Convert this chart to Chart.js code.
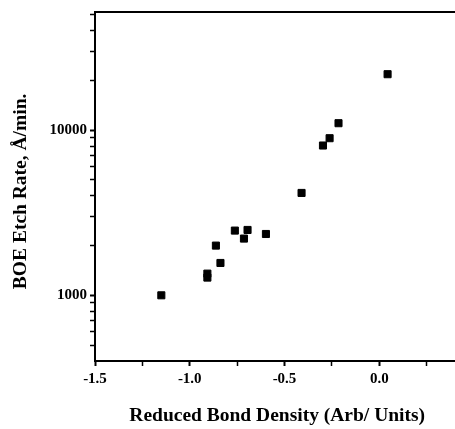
<!DOCTYPE html>
<html>
<head>
<meta charset="utf-8">
<script src="https://cdn.jsdelivr.net/npm/chart.js@4/dist/chart.umd.min.js"></script>
<style>
  html, body { margin: 0; padding: 0; background: #fff; overflow: hidden; }
  canvas { display: block; }
</style>
</head>
<body>
<canvas id="grafico" width="480" height="429"></canvas>
<script>
// Dados
const densidade = [-1.15, -0.907, -0.907, -0.862, -0.838, -0.762, -0.714, -0.695, -0.598, -0.41, -0.297, -0.262, -0.215, 0.044];
const taxaAtaque = [1000, 1353, 1280, 2000, 1570, 2466, 2206, 2488, 2352, 4169, 8078, 8944, 11026, 21840];
const ticksY = [500, 600, 700, 800, 900, 1000, 2000, 3000, 4000, 5000, 6000, 7000, 8000, 9000, 10000, 20000, 30000, 40000, 50000];
const rotulosY = [1000, 10000];

const fonteSerif = 'Liberation Serif, Times New Roman, serif';

// Linha superior da moldura
const molduraTopo = {
    id: 'molduraTopo',
    afterDraw(chart) {
        const { ctx, chartArea } = chart;
        ctx.save();
        ctx.strokeStyle = '#000';
        ctx.lineWidth = 2;
        ctx.beginPath();
        ctx.moveTo(chartArea.left, chartArea.top);
        ctx.lineTo(chartArea.right + 10, chartArea.top);
        ctx.stroke();
        ctx.restore();
    }
};

const ctx = document.getElementById('grafico').getContext('2d');
new Chart(ctx, {
    type: 'scatter',
    data: {
        datasets: [{
            data: densidade.map((x, i) => ({ x: x, y: taxaAtaque[i] })),
            backgroundColor: '#000',
            borderColor: '#000',
            pointStyle: 'rect',
            pointRadius: 5,
            pointBorderWidth: 1
        }]
    },
    options: {
        responsive: false,
        animation: false,
        layout: { padding: { top: 12, right: 6, left: 0, bottom: 0 } },
        plugins: {
            legend: { display: false },
            tooltip: { enabled: false }
        },
        scales: {
            x: {
                type: 'linear',
                min: -1.5,
                max: 0.5,
                afterFit: s => { s.height = 68; },
                border: { display: true, color: '#000', width: 2 },
                grid: {
                    drawOnChartArea: false,
                    tickLength: 5,
                    tickColor: '#000',
                    tickWidth: c => (Math.abs(c.tick.value * 2 - Math.round(c.tick.value * 2)) < 1e-6 ? 2 : 1.5)
                },
                ticks: {
                    stepSize: 0.25,
                    padding: 4,
                    color: '#000',
                    maxRotation: 0,
                    autoSkip: false,
                    font: { family: fonteSerif, size: 15, weight: 'bold' },
                    callback: v => {
                        if (Math.abs(v * 2 - Math.round(v * 2)) > 1e-6) return '';
                        if (v > 0.4) return '';
                        return v.toFixed(1);
                    }
                },
                title: {
                    display: true,
                    text: 'Reduced Bond Density (Arb/ Units)   ',
                    color: '#000',
                    font: { family: fonteSerif, size: 19.5, weight: 'bold' },
                    padding: { top: 0, bottom: 1 }
                }
            },
            y: {
                type: 'logarithmic',
                min: 400,
                max: 52000,
                afterFit: s => { s.width = 95; },
                afterBuildTicks: s => { s.ticks = ticksY.map(v => ({ value: v })); },
                border: { display: true, color: '#000', width: 2 },
                grid: {
                    drawOnChartArea: false,
                    tickLength: 5,
                    tickColor: '#000',
                    tickWidth: c => (rotulosY.includes(c.tick.value) ? 2 : 1.5)
                },
                ticks: {
                    padding: 3,
                    color: '#000',
                    autoSkip: false,
                    font: { family: fonteSerif, size: 15, weight: 'bold' },
                    callback: v => (rotulosY.includes(v) ? String(v) : '')
                },
                title: {
                    display: true,
                    text: 'BOE Etch Rate, Å/min.  ',
                    color: '#000',
                    font: { family: fonteSerif, size: 19.5, weight: 'bold' },
                    padding: { top: 9, bottom: 0 }
                }
            }
        }
    },
    plugins: [molduraTopo]
});
</script>
</body>
</html>
